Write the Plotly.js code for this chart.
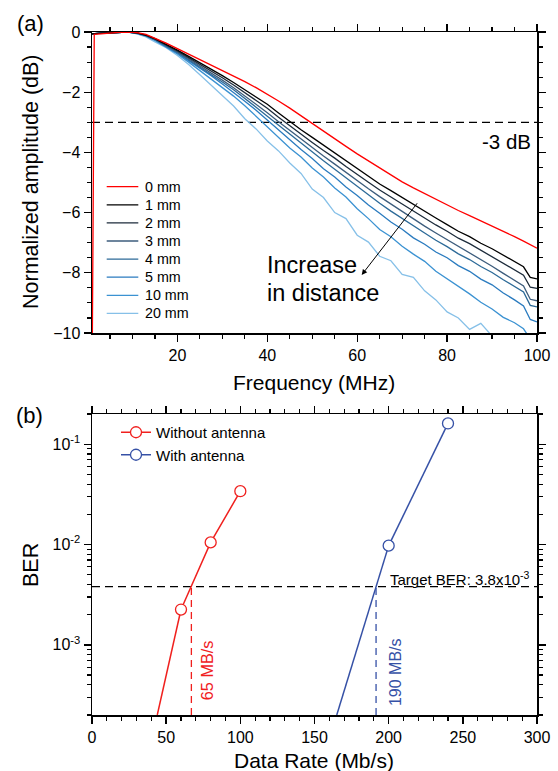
<!DOCTYPE html>
<html><head><meta charset="utf-8">
<script src="https://cdn.plot.ly/plotly-3.0.1.min.js"></script>
<style>html,body{margin:0;padding:0;background:#fff}</style>
</head><body><div id="chart" style="width:558px;height:771px"></div>
<script>
// ---------- Panel (a): normalized amplitude vs frequency ----------
const freqMHz = [1, 1.5, 3, 5, 7, 9, 11, 13, 15, 17.5, 20, 22.5, 25, 27.5, 30, 32.5, 35, 37.5, 40, 42.5, 45, 47.5, 50, 52.5, 55, 57.5, 60, 62.5, 65, 67.5, 70, 72.5, 75, 77.5, 80, 82.5, 85, 87.5, 90, 92.5, 95, 97, 98.5, 100];
const distanceLabels = ['0 mm', '1 mm', '2 mm', '3 mm', '4 mm', '5 mm', '10 mm', '20 mm'];
const amp0mm  = [-12, -0.08, -0.06, -0.03, -0.01, 0, -0.02, -0.08, -0.2, -0.37, -0.55, -0.73, -0.92, -1.1, -1.28, -1.46, -1.65, -1.85, -2.06, -2.29, -2.53, -2.79, -3.05, -3.3, -3.56, -3.8, -4.05, -4.28, -4.52, -4.76, -4.98, -5.18, -5.37, -5.57, -5.74, -5.93, -6.1, -6.27, -6.45, -6.62, -6.8, -6.95, -7.07, -7.18];
const amp1mm  = [-0.06, -0.05, -0.04, -0.03, -0.01, 0, -0.03, -0.1, -0.22, -0.4, -0.6, -0.81, -1.02, -1.23, -1.45, -1.68, -1.92, -2.16, -2.4, -2.69, -2.98, -3.25, -3.5, -3.76, -4.01, -4.27, -4.53, -4.79, -5.05, -5.27, -5.5, -5.74, -5.95, -6.18, -6.4, -6.62, -6.8, -7.02, -7.2, -7.42, -7.62, -7.8, -8.15, -8.2];
const amp2mm  = [-0.06, -0.05, -0.04, -0.03, -0.01, 0, -0.03, -0.11, -0.23, -0.42, -0.63, -0.85, -1.07, -1.29, -1.52, -1.76, -2.01, -2.27, -2.53, -2.83, -3.12, -3.4, -3.67, -3.94, -4.19, -4.47, -4.72, -4.99, -5.25, -5.48, -5.72, -5.96, -6.18, -6.41, -6.62, -6.85, -7.03, -7.25, -7.45, -7.68, -7.9, -8.08, -8.48, -8.52];
const amp3mm  = [-0.06, -0.05, -0.04, -0.03, -0.01, 0, -0.03, -0.11, -0.24, -0.44, -0.66, -0.89, -1.12, -1.35, -1.6, -1.85, -2.12, -2.4, -2.68, -2.98, -3.27, -3.56, -3.84, -4.12, -4.39, -4.67, -4.93, -5.21, -5.47, -5.72, -5.97, -6.22, -6.45, -6.68, -6.9, -7.13, -7.33, -7.56, -7.78, -8.02, -8.25, -8.44, -8.88, -8.93];
const amp4mm  = [-0.06, -0.05, -0.04, -0.03, -0.01, 0, -0.04, -0.12, -0.25, -0.46, -0.68, -0.92, -1.16, -1.4, -1.66, -1.92, -2.2, -2.5, -2.8, -3.1, -3.4, -3.7, -3.99, -4.28, -4.56, -4.85, -5.13, -5.42, -5.69, -5.95, -6.2, -6.46, -6.68, -6.92, -7.13, -7.37, -7.56, -7.79, -7.99, -8.23, -8.45, -8.64, -9.08, -9.13];
const amp5mm  = [-0.06, -0.05, -0.04, -0.03, -0.01, 0, -0.04, -0.12, -0.26, -0.48, -0.7, -0.95, -1.2, -1.45, -1.73, -2.0, -2.3, -2.6, -2.93, -3.25, -3.56, -3.9, -4.2, -4.54, -4.82, -5.15, -5.43, -5.75, -6.02, -6.31, -6.55, -6.84, -7.05, -7.31, -7.5, -7.76, -7.95, -8.21, -8.4, -8.67, -8.9, -9.1, -9.55, -9.63];
const amp10mm = [-0.06, -0.05, -0.04, -0.03, -0.01, 0, -0.05, -0.14, -0.28, -0.5, -0.73, -1.0, -1.28, -1.55, -1.85, -2.13, -2.45, -2.8, -3.15, -3.5, -3.85, -4.15, -4.52, -4.82, -5.18, -5.48, -5.87, -6.2, -6.56, -6.8, -7.12, -7.38, -7.62, -7.95, -8.2, -8.45, -8.7, -8.98, -9.2, -9.48, -9.66, -9.86, -10.2, -10.4];
const amp20mm = [-0.06, -0.05, -0.04, -0.03, -0.01, 0, -0.06, -0.16, -0.33, -0.52, -0.78, -1.08, -1.42, -1.76, -2.12, -2.46, -2.88, -3.22, -3.62, -3.95, -4.35, -4.7, -5.22, -5.5, -6.0, -6.2, -6.75, -6.98, -7.45, -7.6, -8.05, -8.15, -8.6, -8.9, -9.3, -9.5, -9.88, -9.68, -10.1, -10.3, -10.5, -10.6, -10.7, -10.8];
const minus3dB = -3;

// ---------- Panel (b): BER vs data rate ----------
const rateNoAnt = [60, 80, 100];
const berNoAnt  = [2.25e-3, 1.05e-2, 3.4e-2];
const rateNoAntFit = [44, 60];
const berNoAntFit  = [2.0e-4, 2.25e-3];
const rateAnt = [200, 240];
const berAnt  = [9.75e-3, 0.161];
const rateAntFit = [165, 200];
const berAntFit  = [2.0e-4, 9.75e-3];
const targetBER = 3.8e-3;
const crossRates = [67, 191.5];
const crossLabels = ['65 MB/s', '190 MB/s'];

const lineColors = ['#ff0000', '#000000', '#1c2b3b', '#3c5c7c', '#2c6a98', '#2a7bbf', '#3b92d2', '#86c0e8'];
const ampSeries = [amp0mm, amp1mm, amp2mm, amp3mm, amp4mm, amp5mm, amp10mm, amp20mm];
const redB = '#f0201e', blueB = '#3651a6';

// pixel helpers for paper coords (plot area: x 92..537, y 32..715)
const PL = 92, PR = 537, PT = 32, PB = 715;
const px = v => (v - PL) / (PR - PL);
const py = v => (PB - v) / (PB - PT);

const traces = [];
traces.push({x: [freqMHz[0], freqMHz[freqMHz.length - 1]], y: [minus3dB, minus3dB], mode: 'lines', xaxis: 'x', yaxis: 'y',
  line: {color: '#000', width: 1.3, dash: '8px,5px'}, showlegend: false, hoverinfo: 'skip'});
for (let i = ampSeries.length - 1; i >= 0; i--) {
  traces.push({x: freqMHz, y: ampSeries[i], name: distanceLabels[i], mode: 'lines', xaxis: 'x', yaxis: 'y',
    line: {color: lineColors[i], width: 1.3}, showlegend: false});
}
traces.push({x: [0, 300], y: [targetBER, targetBER], mode: 'lines', xaxis: 'x2', yaxis: 'y2',
  line: {color: '#000', width: 1.3, dash: '8px,5px'}, showlegend: false, hoverinfo: 'skip'});
traces.push({x: [crossRates[0], crossRates[0]], y: [2e-4, targetBER], mode: 'lines', xaxis: 'x2', yaxis: 'y2',
  line: {color: redB, width: 1.3, dash: '7px,5px'}, showlegend: false});
traces.push({x: [crossRates[1], crossRates[1]], y: [2e-4, targetBER], mode: 'lines', xaxis: 'x2', yaxis: 'y2',
  line: {color: blueB, width: 1.3, dash: '7px,5px'}, showlegend: false});
traces.push({x: rateNoAntFit, y: berNoAntFit, mode: 'lines', xaxis: 'x2', yaxis: 'y2',
  line: {color: redB, width: 1.5}, showlegend: false});
traces.push({x: rateAntFit, y: berAntFit, mode: 'lines', xaxis: 'x2', yaxis: 'y2',
  line: {color: blueB, width: 1.5}, showlegend: false});
traces.push({x: rateNoAnt, y: berNoAnt, name: 'Without antenna', mode: 'lines+markers', xaxis: 'x2', yaxis: 'y2',
  line: {color: redB, width: 1.5}, marker: {symbol: 'circle', size: 11, color: '#fff', line: {color: redB, width: 1.3}},
  legend: 'legend2', legendrank: 1});
traces.push({x: rateAnt, y: berAnt, name: 'With antenna', mode: 'lines+markers', xaxis: 'x2', yaxis: 'y2',
  line: {color: blueB, width: 1.5}, marker: {symbol: 'circle', size: 11, color: '#fff', line: {color: blueB, width: 1.3}},
  legend: 'legend2', legendrank: 2});

const minorLog = [];
for (let e = -4; e <= -1; e++) for (let d = 2; d <= 9; d++) minorLog.push(d * Math.pow(10, e));

const axCommon = {showline: true, linewidth: 1.5, linecolor: '#000', mirror: 'ticks', ticks: 'outside', ticklen: 7,
  tickwidth: 1.4, tickcolor: '#000', showgrid: false, zeroline: false, tickfont: {size: 16}};

// manual legend for panel (a): sample lines + labels
const legendShapes = [], legendTexts = [];
distanceLabels.forEach((lab, i) => {
  const yy = py(186.7 + 18.1 * i);
  legendShapes.push({type: 'line', xref: 'paper', yref: 'paper', x0: px(106.7), x1: px(138.3), y0: yy, y1: yy,
    line: {color: lineColors[i], width: 1.3}});
  legendTexts.push({text: lab, xref: 'paper', yref: 'paper', x: px(142.5), y: yy, xanchor: 'left', yanchor: 'middle',
    showarrow: false, font: {size: 14.3}});
});

const C = {xanchor: 'center', yanchor: 'middle', showarrow: false};
const layout = {
  width: 558, height: 771,
  margin: {l: PL, r: 558 - PR, t: PT, b: 771 - PB, pad: 0},
  paper_bgcolor: '#fff', plot_bgcolor: '#fff',
  font: {family: 'Liberation Sans, Arial, Helvetica, sans-serif', size: 15, color: '#000'},
  xaxis: Object.assign({}, axCommon, {domain: [0, 1], anchor: 'y', range: [1, 100], tick0: 0, dtick: 20,
    minor: {tick0: 0, dtick: 5, ticks: 'outside', ticklen: 4, tickwidth: 1.2, tickcolor: '#000', showgrid: false}}),
  yaxis: Object.assign({}, axCommon, {domain: [py(333), 1], anchor: 'x', range: [-10, 0], tick0: 0, dtick: 2,
    minor: {tick0: 0, dtick: 0.5, ticks: 'outside', ticklen: 4, tickwidth: 1.2, tickcolor: '#000', showgrid: false}}),
  xaxis2: Object.assign({}, axCommon, {domain: [0, 1], anchor: 'y2', range: [0, 300], tick0: 0, dtick: 50,
    minor: {tick0: 0, dtick: 10, ticks: 'outside', ticklen: 4, tickwidth: 1.2, tickcolor: '#000', showgrid: false}}),
  yaxis2: Object.assign({}, axCommon, {domain: [0, py(414)], anchor: 'x2', type: 'log',
    range: [Math.log10(2e-4), Math.log10(0.2)],
    tickmode: 'array', tickvals: [1e-3, 1e-2, 1e-1], ticktext: ['10<sup>-3</sup>', '10<sup>-2</sup>', '10<sup>-1</sup>'],
    minor: {tickmode: 'array', tickvals: minorLog, ticks: 'outside', ticklen: 4, tickwidth: 1.2, tickcolor: '#000', showgrid: false}}),
  legend2: {x: px(116), y: py(416), xanchor: 'left', yanchor: 'top', bgcolor: 'rgba(0,0,0,0)', borderwidth: 0,
    font: {size: 15}, tracegroupgap: 0, traceorder: 'normal'},
  shapes: legendShapes,
  annotations: legendTexts.concat([
    Object.assign({text: '(a)', xref: 'paper', yref: 'paper', x: px(30), y: py(23), font: {size: 22}}, C),
    Object.assign({text: '(b)', xref: 'paper', yref: 'paper', x: px(29), y: py(415), font: {size: 22}}, C),
    Object.assign({text: 'Frequency (MHz)', xref: 'paper', yref: 'paper', x: px(314), y: py(382), font: {size: 21}}, C),
    Object.assign({text: 'Data Rate (Mb/s)', xref: 'paper', yref: 'paper', x: px(314), y: py(760), font: {size: 21}}, C),
    Object.assign({text: 'Normalized amplitude (dB)', xref: 'paper', yref: 'paper', x: px(31), y: py(182), textangle: -90, font: {size: 21.5}}, C),
    Object.assign({text: 'BER', xref: 'paper', yref: 'paper', x: px(31), y: py(565), textangle: -90, font: {size: 21.5}}, C),
    {text: '-3 dB', xref: 'x', yref: 'y', x: 99, y: -3.64, xanchor: 'right', yanchor: 'middle', showarrow: false, font: {size: 20.5}},
    {text: 'Increase', xref: 'x', yref: 'y', x: 39.5, y: -7.74, xanchor: 'left', yanchor: 'middle', showarrow: false, font: {size: 23.5}},
    {text: 'in distance', xref: 'x', yref: 'y', x: 39.5, y: -8.67, xanchor: 'left', yanchor: 'middle', showarrow: false, font: {size: 23.5}},
    {text: '', xref: 'x', yref: 'y', x: 61, y: -8.07, axref: 'x', ayref: 'y', ax: 73.6, ay: -5.64,
      showarrow: true, arrowhead: 2, arrowsize: 1.1, arrowwidth: 1, arrowcolor: '#000'},
    {text: 'Target BER: 3.8x10<sup>-3</sup>', xref: 'x2', yref: 'y2', x: 199.5, y: Math.log10(targetBER), xanchor: 'left', yanchor: 'bottom',
      showarrow: false, font: {size: 15}, yshift: -3},
    {text: crossLabels[0], xref: 'x2', yref: 'y2', x: 77.6, y: Math.log10(5.6e-4), textangle: -90, xanchor: 'center', yanchor: 'middle', showarrow: false, font: {size: 16.3, color: redB}},
    {text: crossLabels[1], xref: 'x2', yref: 'y2', x: 204.5, y: Math.log10(5.4e-4), textangle: -90, xanchor: 'center', yanchor: 'middle', showarrow: false, font: {size: 16, color: blueB}}
  ])
};

Plotly.newPlot('chart', traces, layout, {displayModeBar: false, staticPlot: true});
</script>
</body></html>
